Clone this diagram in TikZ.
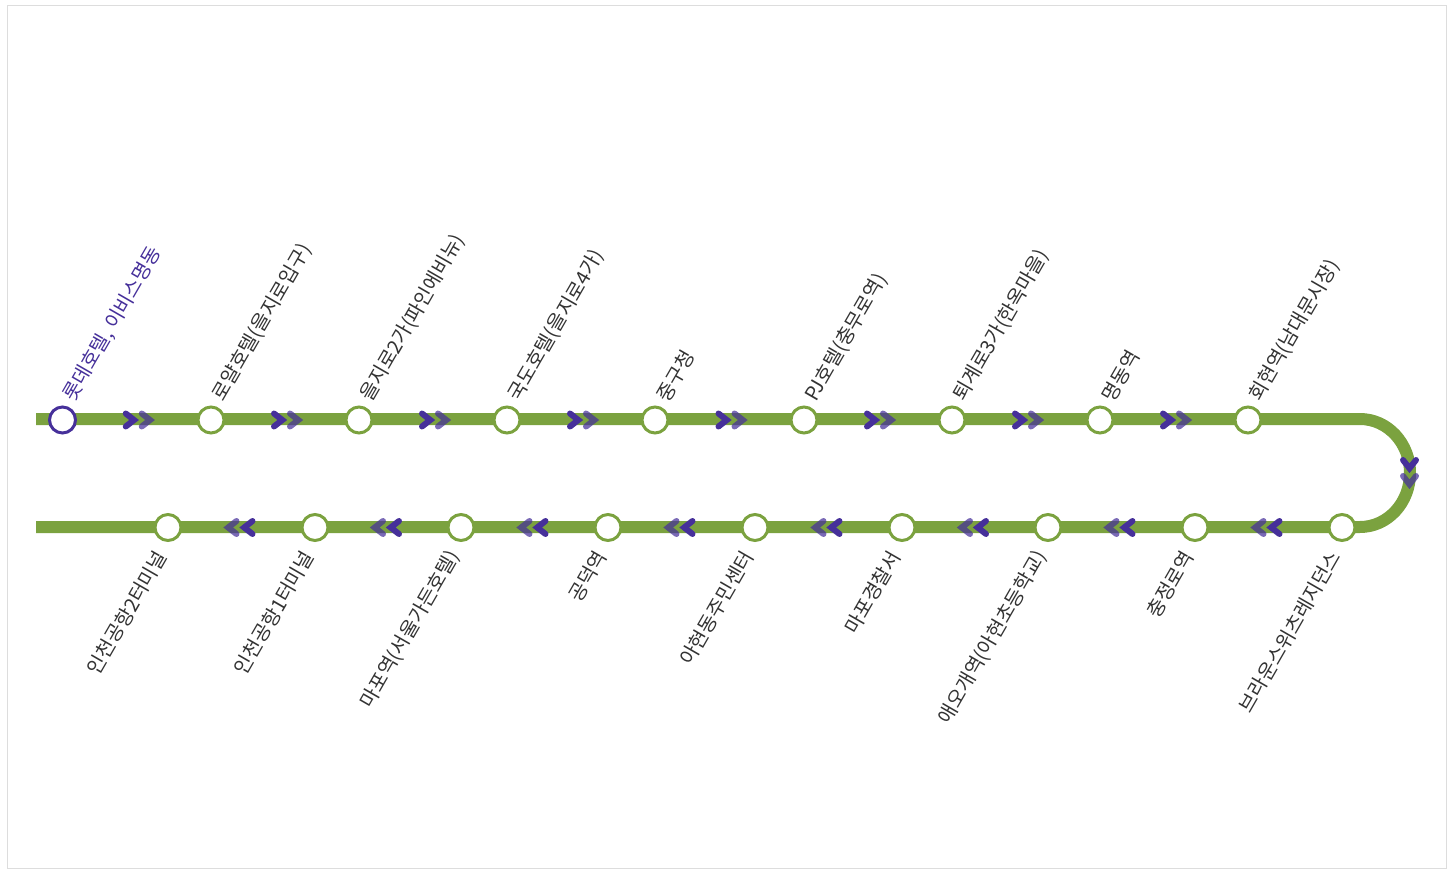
\documentclass[tikz,border=0pt]{standalone}
\usepackage{fontspec}
\usepackage{xcolor}
\usetikzlibrary{calc}
\setmainfont{Noto Sans CJK KR}
\definecolor{lineGreen}{HTML}{7BA23F}
\definecolor{nowPurple}{HTML}{46309A}
\definecolor{labelGray}{HTML}{333333}
\definecolor{frameGray}{HTML}{DDDDDD}

\begin{document}
\begin{tikzpicture}[
  x=1pt, y=-1pt,
  font=\fontsize{19.8}{20}\selectfont,
  track/.style={draw=lineGreen, line width=12pt},
  stn/.style={circle, draw=lineGreen, line width=3pt, fill=white,
              minimum size=26pt, inner sep=0pt},
  nowstn/.style={stn, draw=nowPurple},
  toplabel/.style={rotate=60, anchor=west, text=labelGray, inner sep=0pt,
                   xshift=21pt, yshift=4.5pt},
  botlabel/.style={rotate=60, anchor=east, text=labelGray, inner sep=0pt,
                   xshift=-24.9pt, yshift=-7pt},
  chev/.style={draw=nowPurple, line width=6pt, line cap=round, line join=miter},
  chevrons/.pic={
    \draw[chev] (-11,-6.5) -- (-2.7,0) -- (-11,6.5);
    \draw[chev, opacity=.72] (5,-6.5) -- (13.3,0) -- (5,6.5);
  }
]
\useasboundingbox (0,0) rectangle (1452,872);
\draw[frameGray] (7.5,5.5) rectangle (1446,868);

\coordinate (trackA) at (36,419);
\coordinate (turnA) at (1360,419);
\coordinate (trackB) at (36,527);
\coordinate (turnMid) at (1409.5,471);
\draw[track] (trackA) -- (turnA) arc[x radius=50pt, y radius=54pt, start angle=90, end angle=-90] -- (trackB);

% upper row
\node[nowstn] (st1) at (62.5,420) {};
\node[stn] (st2) at (211,420) {};
\node[stn] (st3) at (359,420) {};
\node[stn] (st4) at (507,420) {};
\node[stn] (st5) at (655,420) {};
\node[stn] (st6) at (804,420) {};
\node[stn] (st7) at (952,420) {};
\node[stn] (st8) at (1100,420) {};
\node[stn] (st9) at (1248,420) {};

% lower row
\node[stn] (st10) at (1342,527.5) {};
\node[stn] (st11) at (1195,527.5) {};
\node[stn] (st12) at (1048,527.5) {};
\node[stn] (st13) at (902,527.5) {};
\node[stn] (st14) at (755,527.5) {};
\node[stn] (st15) at (608,527.5) {};
\node[stn] (st16) at (461,527.5) {};
\node[stn] (st17) at (315,527.5) {};
\node[stn] (st18) at (168,527.5) {};

\foreach \a/\b in {st1/st2,st2/st3,st3/st4,st4/st5,st5/st6,st6/st7,st7/st8,st8/st9}
  \pic at ($(\a)!.5!(\b)$) {chevrons};
\pic[rotate=-90] at (turnMid) {chevrons};
\foreach \a/\b in {st10/st11,st11/st12,st12/st13,st13/st14,st14/st15,st15/st16,st16/st17,st17/st18}
  \pic[rotate=180] at ($(\a)!.5!(\b)$) {chevrons};

\node[toplabel, text=nowPurple] (lb1) at (st1) {롯데호텔, 이비스명동};
\node[toplabel] (lb2) at (st2) {로얄호텔(을지로입구)};
\node[toplabel] (lb3) at (st3) {을지로2가(파인에비뉴)};
\node[toplabel] (lb4) at (st4) {국도호텔(을지로4가)};
\node[toplabel] (lb5) at (st5) {중구청};
\node[toplabel] (lb6) at (st6) {PJ호텔(충무로역)};
\node[toplabel] (lb7) at (st7) {퇴계로3가(한옥마을)};
\node[toplabel] (lb8) at (st8) {명동역};
\node[toplabel] (lb9) at (st9) {회현역(남대문시장)};

\node[botlabel] (lb10) at (st10) {브라운스위츠레지던스};
\node[botlabel] (lb11) at (st11) {충정로역};
\node[botlabel] (lb12) at (st12) {애오개역(아현초등학교)};
\node[botlabel] (lb13) at (st13) {마포경찰서};
\node[botlabel] (lb14) at (st14) {아현동주민센터};
\node[botlabel] (lb15) at (st15) {공덕역};
\node[botlabel] (lb16) at (st16) {마포역(서울가든호텔)};
\node[botlabel] (lb17) at (st17) {인천공항1터미널};
\node[botlabel] (lb18) at (st18) {인천공항2터미널};
\end{tikzpicture}
\end{document}
